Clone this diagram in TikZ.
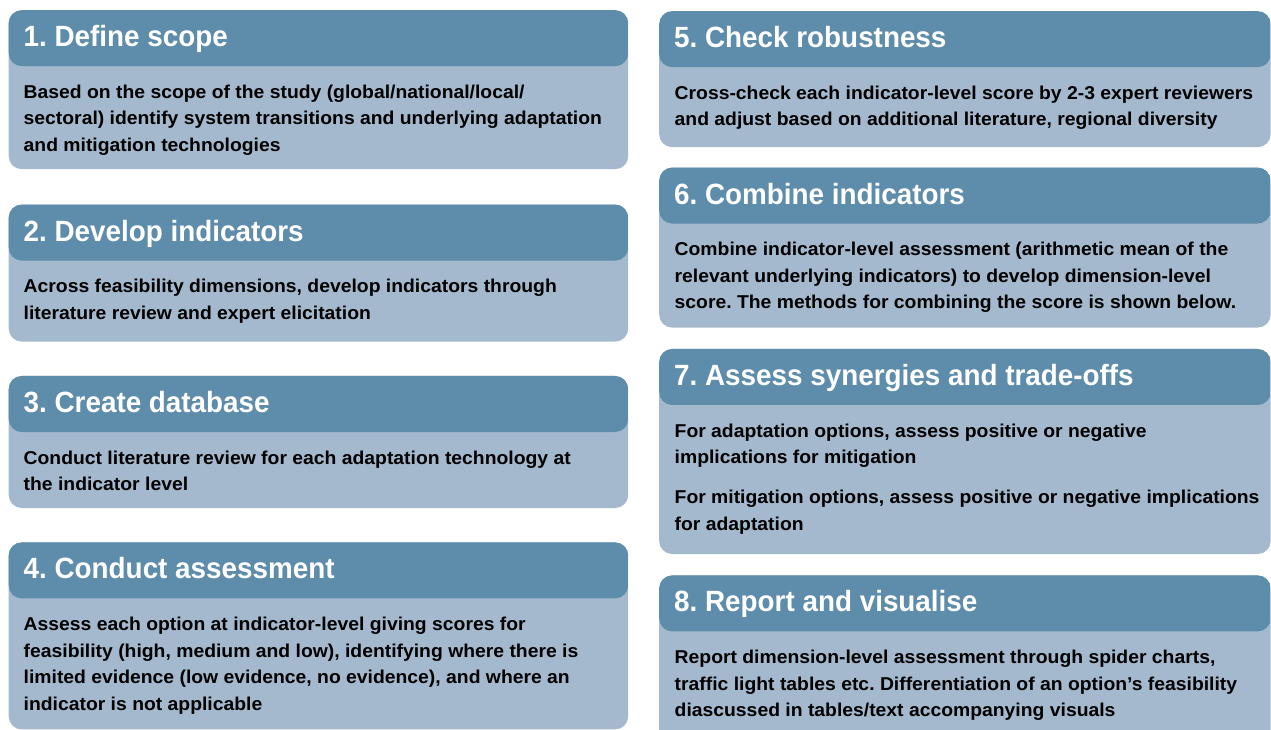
\documentclass[tikz,border=0pt]{standalone}
\usepackage{fontspec}
\usetikzlibrary{positioning}
\newfontfamily\headfont[FakeStretch=0.95]{Liberation Sans Bold}
\newfontfamily\bodyfont[FakeStretch=1.04]{Liberation Sans Bold}
\frenchspacing
\definecolor{stephead}{RGB}{94,140,171}
\definecolor{stepbody}{RGB}{164,185,206}
\tikzset{
  stepbox/.style={fill=stepbody, rounded corners=13pt, inner sep=0pt, minimum height=#1,
    path picture={\fill[stephead] (path picture bounding box.north west) rectangle ([yshift=-56pt]path picture bounding box.north east);}},
  leftbox/.style={stepbox=#1, minimum width=619.5pt},
  rightbox/.style={stepbox=#1, minimum width=611.5pt},
  steptitle/.style={anchor=base west, inner sep=0pt, text=white, font=\headfont\fontsize{29.3}{32}\selectfont},
  steptext/.style={anchor=base west, inner sep=0pt, align=left, text=black, font=\bodyfont\fontsize{18.6}{26.5}\selectfont},
}
\begin{document}
\begin{tikzpicture}[x=1pt,y=1pt]
\useasboundingbox (0,0) rectangle (1271,729);
\clip (0,0) rectangle (1271,729);
% left column
\node[leftbox=159pt, anchor=north west] (box1) at (8.5,719) {};
\node[leftbox=137pt, below=35pt of box1] (box2) {};
\node[leftbox=132pt, below=34pt of box2] (box3) {};
\node[leftbox=187pt, below=34pt of box3] (box4) {};
% right column
\node[rightbox=136pt, anchor=north west] (box5) at (659,718) {};
\node[rightbox=160pt, below=20pt of box5] (box6) {};
\node[rightbox=205pt, below=21pt of box6] (box7) {};
\node[rightbox=170pt, below=21pt of box7] (box8) {};

% base of a text node is its last line
\node[steptitle] (title1) at ([xshift=15pt,yshift=-36.7pt]box1.north west) {1. Define scope};
\node[steptext] (text1) at ([xshift=15pt,yshift=-141.3pt]box1.north west)
  {Based on the scope of the study (global/national/local/\\sectoral) identify system transitions and underlying adaptation\\and mitigation technologies};
\node[steptitle] (title2) at ([xshift=15pt,yshift=-36.7pt]box2.north west) {2. Develop indicators};
\node[steptext] (text2) at ([xshift=15pt,yshift=-114.8pt]box2.north west)
  {Across feasibility dimensions, develop indicators through\\literature review and expert elicitation};
\node[steptitle] (title3) at ([xshift=15pt,yshift=-36.7pt]box3.north west) {3. Create database};
\node[steptext] (text3) at ([xshift=15pt,yshift=-114.8pt]box3.north west)
  {Conduct literature review for each adaptation technology at\\the indicator level};
\node[steptitle] (title4) at ([xshift=15pt,yshift=-36.7pt]box4.north west) {4. Conduct assessment};
\node[steptext] (text4) at ([xshift=15pt,yshift=-167.8pt]box4.north west)
  {Assess each option at indicator-level giving scores for\\feasibility (high, medium and low), identifying where there is\\limited evidence (low evidence, no evidence), and where an\\indicator is not applicable};

\node[steptitle] (title5) at ([xshift=15pt,yshift=-36.7pt]box5.north west) {5. Check robustness};
\node[steptext] (text5) at ([xshift=15.5pt,yshift=-114.8pt]box5.north west)
  {Cross-check each indicator-level score by 2-3 expert reviewers\\and adjust based on additional literature, regional diversity};
\node[steptitle] (title6) at ([xshift=15pt,yshift=-36.7pt]box6.north west) {6. Combine indicators};
\node[steptext] (text6) at ([xshift=15.5pt,yshift=-141.3pt]box6.north west)
  {Combine indicator-level assessment (arithmetic mean of the\\relevant underlying indicators) to develop dimension-level\\score. The methods for combining the score is shown below.};
\node[steptitle] (title7) at ([xshift=15pt,yshift=-36.7pt]box7.north west) {7. Assess synergies and trade-offs};
\node[steptext] (text7) at ([xshift=15.5pt,yshift=-181.3pt]box7.north west)
  {For adaptation options, assess positive or negative\\implications for mitigation\\[13.5pt]For mitigation options, assess positive or negative implications\\for adaptation};
\node[steptitle] (title8) at ([xshift=15pt,yshift=-36.7pt]box8.north west) {8. Report and visualise};
\node[steptext] (text8) at ([xshift=15.5pt,yshift=-141.3pt]box8.north west)
  {Report dimension-level assessment through spider charts,\\traffic light tables etc. Differentiation of an option’s feasibility\\diascussed in tables/text accompanying visuals};
\end{tikzpicture}
\end{document}
